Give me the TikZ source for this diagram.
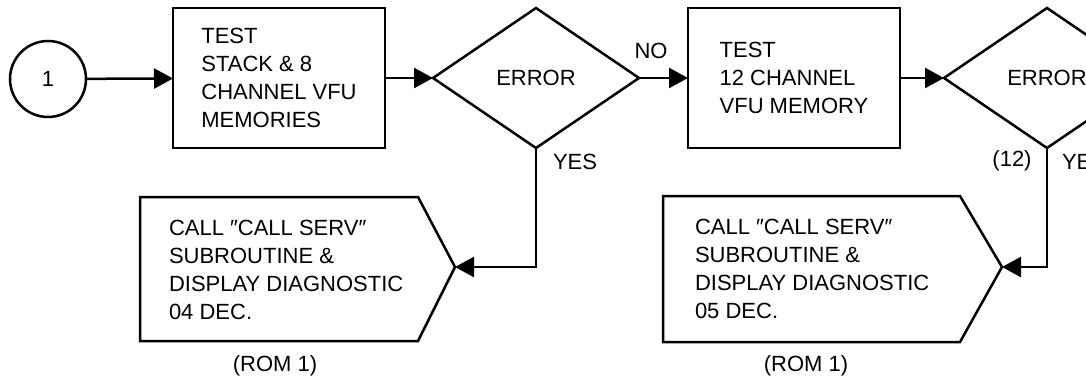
\documentclass[tikz,border=0pt]{standalone}
\usepackage{fontspec}
\setmainfont{Liberation Sans}
\usetikzlibrary{arrows.meta,shapes.geometric}
\begin{document}
\begin{tikzpicture}[x=1pt,y=-1pt,line width=2.5pt,
  font=\fontsize{22}{28}\selectfont,
  >={Triangle[length=19pt,width=20pt]},
  every node/.style={outer sep=0pt},
  procbox/.style={draw,rectangle,minimum width=212pt,minimum height=140pt,align=left,inner sep=0pt},
  decision/.style={draw,diamond,minimum width=206pt,minimum height=140pt,aspect=1.47,inner sep=0pt},
  conn/.style={draw,circle,minimum size=76pt,inner sep=0pt},
  calltext/.style={anchor=west,align=left,inner sep=0pt},
  lbl/.style={inner sep=0pt}]
\useasboundingbox (0,0) rectangle (1086,380);
\clip (0,0) rectangle (1086,380);

% connector circle
\node[conn] (c1) at (48,79) {1};
% process boxes
\node[procbox] (b1) at (279,78) {TEST\\STACK \& 8\\CHANNEL VFU\\MEMORIES};
\node[procbox] (b2) at (794,78) {TEST\\12 CHANNEL\\VFU MEMORY};
% decisions
\node[decision] (d1) at (536,78) {ERROR};
\node[decision] (d2) at (1047,78) {ERROR};

% call pentagons
\draw (140,197) -- (418,197) -- (455,267) -- (418,341) -- (140,341) -- cycle;
\coordinate (p1) at (455,267);
\node[calltext] (t1) at (169,270) {CALL ″CALL SERV″\\SUBROUTINE \&\\DISPLAY DIAGNOSTIC\\04 DEC.};
\draw (663,196) -- (960,196) -- (1002,267) -- (960,342) -- (663,342) -- cycle;
\coordinate (p2) at (1002,267);
\node[calltext] (t2) at (695,269) {CALL ″CALL SERV″\\SUBROUTINE \&\\DISPLAY DIAGNOSTIC\\05 DEC.};

\node[lbl] (r1) at (275,366) {(ROM 1)};
\node[lbl] (r2) at (806,366) {(ROM 1)};

% connectors
\draw[->] (c1) -- (b1);
\draw[->] (b1) -- (d1);
\draw[->] (d1) -- (b2);
\draw[->] (b2) -- (d2);
\draw[->] (d1.south) |- (p1);
\draw[->] (d2.south) |- (p2);

% labels
\node[lbl] (no1) at (651,51) {NO};
\node[lbl,anchor=west] (y1) at (553,162) {YES};
\node[lbl] (n12) at (1012,161) {(12)};
\node[lbl,anchor=west] (y2) at (1062,162) {YES};
\end{tikzpicture}
\end{document}
